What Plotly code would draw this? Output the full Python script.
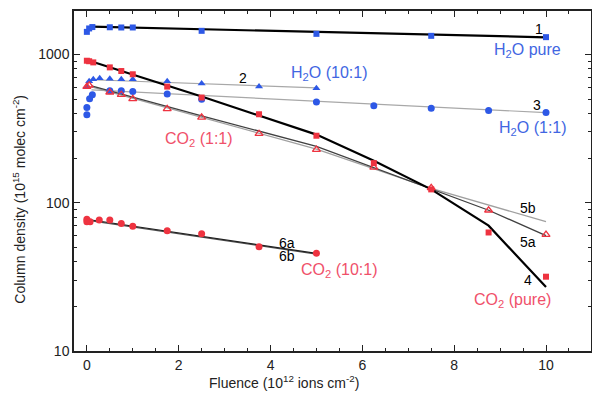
import plotly.graph_objects as go

# data
h2o_pure_x = [0, 0.05, 0.12, 0.5, 0.75, 1.0, 2.5, 5.0, 7.5, 10.0]
h2o_pure_y = [1420, 1497, 1530, 1525, 1520, 1520, 1443, 1377, 1335, 1308]

h2o_101_x = [0, 0.05, 0.14, 0.28, 0.5, 0.75, 1.0, 1.75, 2.5, 3.75, 5.0]
h2o_101_y = [600, 660, 680, 690, 685, 680, 680, 660, 638, 607, 592]

h2o_11_x = [0, 0, 0.06, 0.12, 0.5, 0.75, 1.0, 1.75, 2.5, 5.0, 6.25, 7.5, 8.75, 10.0]
h2o_11_y = [392, 438, 502, 535, 568, 568, 562, 542, 499, 477, 451, 433, 419, 406]

co2_pure_x = [0, 0.05, 0.14, 0.5, 0.75, 1.0, 1.75, 2.5, 3.75, 5.0, 6.25, 7.5, 8.75, 10.0]
co2_pure_y = [907, 900, 884, 818, 773, 735, 607, 512, 395, 283, 185, 123, 63, 31.7]

co2_11_x = [0, 0.05, 0.5, 0.75, 1.0, 1.75, 2.5, 3.75, 5.0, 6.25, 7.5, 8.75, 10.0]
co2_11_y = [607, 620, 556, 535, 502, 430, 376, 292, 228, 173, 126, 89, 61]

co2_101_x = [0, 0, 0.07, 0.27, 0.5, 0.75, 1.0, 1.75, 2.5, 3.75, 5.0]
co2_101_y = [77.4, 74.5, 74.5, 76.5, 76.5, 72.3, 69.5, 64.6, 61.7, 50.4, 45.7]

# fit curves
fit1_x = [0.1, 10.0]
fit1_y = [1540, 1305]
fit2_x = [0.1, 5.0]
fit2_y = [675, 595]
fit3_x = [0.1, 10.0]
fit3_y = [576, 405]
fit4_x = [0.07, 2.5, 5.0, 6.25, 7.5, 8.75, 10.0]
fit4_y = [903, 520, 288, 192, 123, 70, 27]
fit5a_x = [0.1, 2.5, 5.0, 7.5, 8.75, 10.0]
fit5a_y = [614, 385, 240, 123, 89, 60]
fit5b_x = [0.1, 2.5, 5.0, 7.5, 10.0]
fit5b_y = [605, 375, 230, 125, 74.5]
fit6a_x = [0.1, 5.0]
fit6a_y = [76.5, 45.5]
fit6b_x = [0.1, 5.0]
fit6b_y = [75.5, 45.0]

minor_y = [20, 30, 40, 50, 60, 70, 80, 90, 200, 300, 400, 500, 600, 700, 800, 900]

BLUE = "#2d58e6"
RED = "#ee3340"
BLUE_TXT = "#4166e2"
RED_TXT = "#f0506a"
FONT = "Liberation Sans, Arial, sans-serif"

fig = go.Figure()

# fitted lines (drawn under the markers)
for fx, fy, col, w in [
    (fit2_x, fit2_y, "#a8a8a8", 1.2),
    (fit3_x, fit3_y, "#a8a8a8", 1.2),
    (fit5b_x, fit5b_y, "#a0a0a0", 1.3),
    (fit5a_x, fit5a_y, "#404040", 1.3),
    (fit6b_x, fit6b_y, "#505050", 1.2),
    (fit6a_x, fit6a_y, "#202020", 1.2),
    (fit1_x, fit1_y, "#000000", 2.2),
    (fit4_x, fit4_y, "#000000", 2.2),
]:
    fig.add_trace(go.Scatter(x=fx, y=fy, mode="lines",
                             line=dict(color=col, width=w), showlegend=False))

fig.add_trace(go.Scatter(x=h2o_pure_x, y=h2o_pure_y, mode="markers",
                         marker=dict(symbol="square", size=6, color=BLUE)))
fig.add_trace(go.Scatter(x=h2o_101_x, y=h2o_101_y, mode="markers",
                         marker=dict(symbol="triangle-up", size=7, color=BLUE)))
fig.add_trace(go.Scatter(x=h2o_11_x, y=h2o_11_y, mode="markers",
                         marker=dict(symbol="circle", size=7, color=BLUE)))
fig.add_trace(go.Scatter(x=co2_pure_x, y=co2_pure_y, mode="markers",
                         marker=dict(symbol="square", size=6, color=RED)))
fig.add_trace(go.Scatter(x=co2_11_x, y=co2_11_y, mode="markers",
                         marker=dict(symbol="triangle-up-open", size=7, color=RED,
                                     line=dict(width=1.3))))
fig.add_trace(go.Scatter(x=co2_101_x, y=co2_101_y, mode="markers",
                         marker=dict(symbol="circle", size=7, color=RED)))

# invisible trace to carry the minor-tick y axis
fig.add_trace(go.Scatter(x=[None], y=[None], yaxis="y2", showlegend=False))

labels = [
    ("1", 9.85, 26.7, "black"),
    ("H<sub>2</sub>O pure", 9.6, 49, BLUE_TXT),
    ("2", 3.4, 76, "black"),
    ("H<sub>2</sub>O (10:1)", 5.27, 72, BLUE_TXT),
    ("3", 9.8, 104, "black"),
    ("H<sub>2</sub>O (1:1)", 9.72, 127, BLUE_TXT),
    ("CO<sub>2</sub> (1:1)", 2.45, 138, RED_TXT),
    ("5b", 9.6, 207, "black"),
    ("5a", 9.6, 241, "black"),
    ("4", 9.6, 280, "black"),
    ("CO<sub>2</sub> (pure)", 9.28, 300, RED_TXT),
    ("6a", 4.35, 242, "black"),
    ("6b", 4.35, 255, "black"),
    ("CO<sub>2</sub> (10:1)", 5.5, 270, RED_TXT),
]
annots = []
for txt, xv, py, col in labels:
    size = 14 if col == "black" else 16
    annots.append(dict(text=txt, x=xv, y=(351 - py) / 342, xref="x", yref="paper",
                       xanchor="center", yanchor="middle", showarrow=False,
                       font=dict(color=col, size=size, family=FONT)))

annots.append(dict(text="Fluence (10<sup>12</sup> ions cm<sup>-2</sup>)",
                   x=(284 - 74) / 517, y=-0.09, xref="paper", yref="paper",
                   xanchor="center", yanchor="middle", showarrow=False,
                   font=dict(size=14, color="#222", family=FONT)))
annots.append(dict(text="Column density (10<sup>15</sup> molec cm<sup>-2</sup>)",
                   x=-0.107, y=0.447, xref="paper", yref="paper", textangle=-90,
                   xanchor="center", yanchor="middle", showarrow=False,
                   font=dict(size=14, color="#222", family=FONT)))

# page body has an 8px margin, so the figure is shrunk by that much
fig.update_layout(
    width=592, height=388,
    margin=dict(l=66, r=9, t=1, b=45),
    paper_bgcolor="white", plot_bgcolor="white",
    showlegend=False,
    font=dict(family=FONT, size=14, color="#222"),
    annotations=annots,
    xaxis=dict(range=[-0.28, 10.98], tickvals=[0, 2, 4, 6, 8, 10],
               ticks="inside", ticklen=6, tickwidth=1.2, tickcolor="#222",
               showline=True, linecolor="#222", linewidth=1.5, mirror="ticks",
               showgrid=False, zeroline=False,
               minor=dict(dtick=0.5, ticks="inside", ticklen=3, tickcolor="#222", showgrid=False)),
    yaxis=dict(type="log", range=[1, 3.293], tickvals=[10, 100, 1000],
               ticktext=["10", "100", "1000"],
               ticks="inside", ticklen=6, tickwidth=1.2, tickcolor="#222",
               showline=True, linecolor="#222", linewidth=1.5, mirror="ticks",
               showgrid=False, zeroline=False),
    yaxis2=dict(type="log", range=[1, 3.293], overlaying="y", tickvals=minor_y,
                showticklabels=False, ticks="inside", ticklen=3, tickcolor="#222",
                mirror="ticks", showline=False, showgrid=False, zeroline=False),
)

fig.write_html("out.html")
